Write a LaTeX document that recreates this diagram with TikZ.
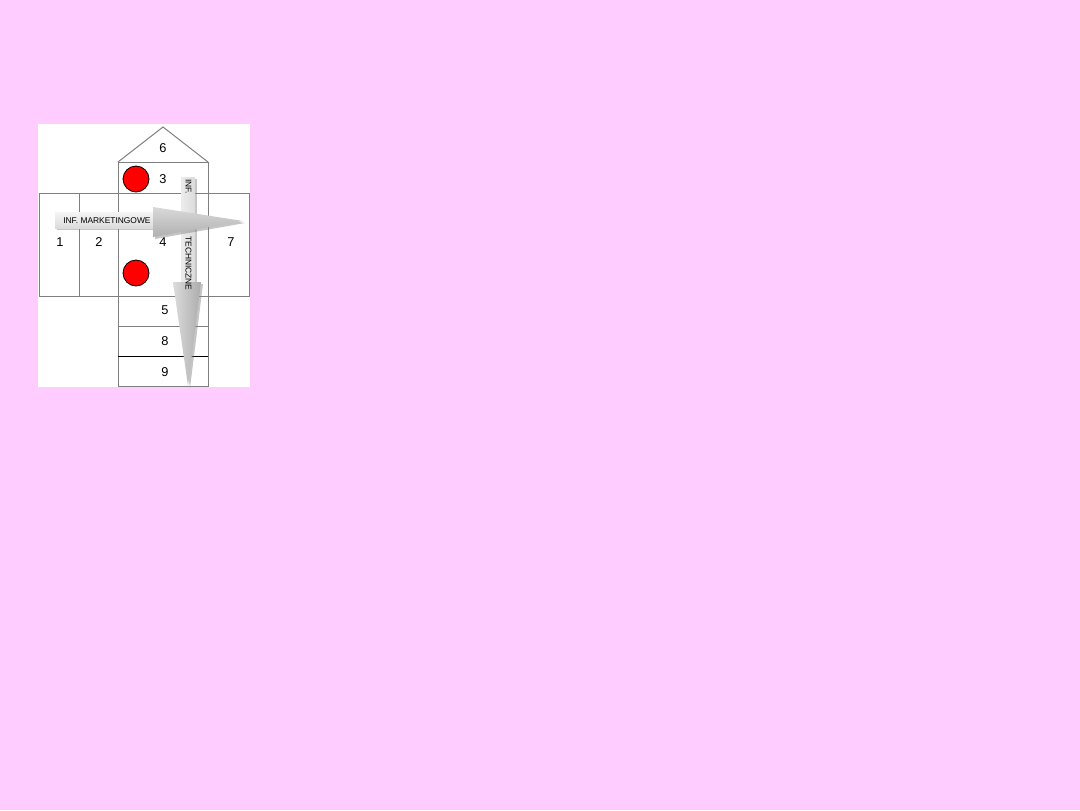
\documentclass[tikz,border=0pt]{standalone}
\usepackage{fontspec}
\setmainfont{Liberation Sans}
\usetikzlibrary{shadows}
\usetikzlibrary{positioning}
\definecolor{bgpink}{HTML}{FFCCFF}
\definecolor{cellline}{HTML}{7F7F7F}
\begin{document}
\begin{tikzpicture}[
    x=0.75pt, y=-0.75pt,
    font=\fontsize{9.6}{11}\selectfont
]
\tikzset{
    cell/.style = {draw=cellline, line width=0.75pt},
    num/.style = {inner sep=0pt},
    dot/.style = {circle, draw=black, line width=0.6pt, fill=red, minimum size=19.5pt, inner sep=0pt},
    tag/.style = {inner sep=0pt, font=\fontsize{6.3}{7}\selectfont},
    shaft/.style = {drop shadow={shadow xshift=1.5pt, shadow yshift=-1.5pt, opacity=0.45, fill=gray}},
}
% page and panel
\fill[bgpink] (0,0) rectangle (1080,810);
\useasboundingbox (0,0) rectangle (1080,810);
\fill[white] (38,124) rectangle (250,387);

% plan of the cells
\draw[cell] (118,162) -- (163,127) -- (208,162);
\draw[cell] (118,162) rectangle (208,193);
\draw[cell] (39,193) rectangle (79,296);
\draw[cell] (79,193) rectangle (118,296);
\draw[cell] (118,193) rectangle (208,296);
\draw[cell] (208,193) rectangle (249,296);
\draw[cell] (118,296) rectangle (208,326);
\draw[cell] (118,326) rectangle (208,356);
\draw[cell] (118,356) rectangle (208,386);
\draw[black, line width=0.75pt] (118,356) -- (208,356);

\node[num] at (163,148) (n6) {6};
\node[num] at (163,179) (n3) {3};
\node[num] at (60,242) (n1) {1};
\node[num] at (99,242) (n2) {2};
\node[num] at (163,242) (n4) {4};
\node[num] at (231,242) (n7) {7};
\node[num] at (165,310) (n5) {5};
\node[num] at (165,341) (n8) {8};
\node[num] at (165,372) (n9) {9};

\node[dot] at (136,179) (dota) {};
\node[dot] at (136,273) (dotb) {};

% vertical arrow
\shade[shaft, left color=gray!15, right color=gray!28] (181,177) rectangle (195,283);
\shade[shaft, left color=gray!28, right color=gray!65] (173,282) -- (201,282) -- (188,386) -- cycle;
\node[tag, rotate=-90] at (188.5,186.5) (tinf) {INF.};
\node[tag, rotate=-90] at (188.5,263.5) (ttech) {TECHNICZNE};

% horizontal arrow
\shade[shaft, top color=gray!8, bottom color=gray!28] (55,212) rectangle (154,228);
\shade[shaft, top color=gray!30, bottom color=gray!62] (153,207) -- (243,221) -- (153,237) -- cycle;
\node[tag, anchor=west] at (63,221) (tmark) {INF. MARKETINGOWE};
\end{tikzpicture}
\end{document}
